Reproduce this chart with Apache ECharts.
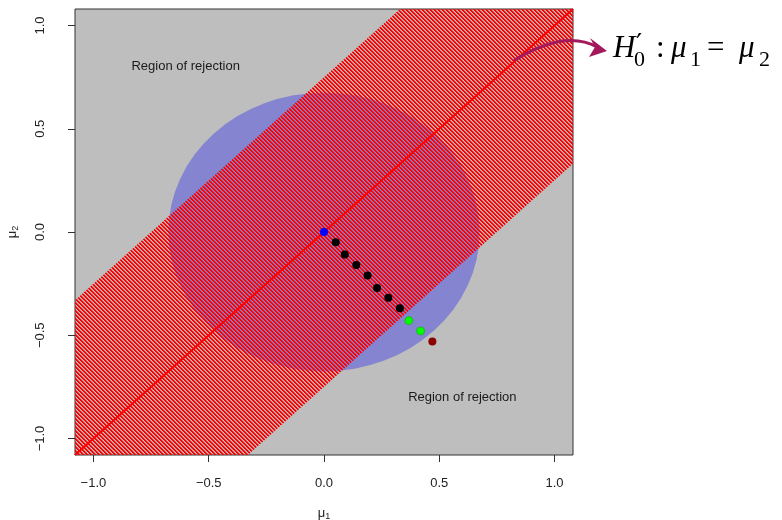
<!DOCTYPE html>
<html>
<head>
<meta charset="utf-8">
<script src="https://cdn.jsdelivr.net/npm/echarts@6/dist/echarts.min.js"></script>
<style>html,body{margin:0;padding:0;background:#fff}#c{width:782px;height:520px}</style>
</head>
<body>
<div id="c"></div>
<script>
// ---- data ----
const axisMin = -1.08, axisMax = 1.08;
const xTicks = [-1.0, -0.5, 0.0, 0.5, 1.0];
const yTicks = [-1.0, -0.5, 0.0, 0.5, 1.0];
const bandHalfWidth = 0.75;          // |mu2 - mu1| < 0.75 (acceptance band)
const circleCenter = [0, 0];
const circleRadius = 0.675;
const nullLine = [[-1.08, -1.08], [1.08, 1.08]];
const originPoint = [[0.0, 0.0]];
const blackPoints = [[0.051, -0.050], [0.090, -0.109], [0.140, -0.160], [0.189, -0.211],
                     [0.230, -0.271], [0.279, -0.319], [0.329, -0.369]];
const greenPoints = [[0.368, -0.429], [0.419, -0.479]];
const darkRedPoints = [[0.470, -0.530]];
const regionLabels = [['Region of rejection', -0.60, 0.80], ['Region of rejection', 0.60, -0.80]];

// ---- hatch pattern ----
function makeHatch() {
  const n = 4;
  const alphaByPhase = [255, 255, 80, 0];
  const cv = document.createElement('canvas');
  cv.width = n; cv.height = n;
  const ctx = cv.getContext('2d');
  const img = ctx.createImageData(n, n);
  for (let y = 0; y < n; y++) for (let x = 0; x < n; x++) {
    const k = (y * n + x) * 4;
    const ph = (((x - y) % n) + n) % n;
    img.data[k] = 255; img.data[k + 1] = 0; img.data[k + 2] = 0;
    img.data[k + 3] = alphaByPhase[ph];
  }
  ctx.putImageData(img, 0, 0);
  return cv;
}
const hatch = makeHatch();

const fmt = v => v.toFixed(1).replace('-', '\u2212');
const chart = echarts.init(document.getElementById('c'), null, {renderer: 'canvas'});

const option = {
  animation: false,
  backgroundColor: '#ffffff',
  grid: {left: 75, right: 209, top: 9, bottom: 65, show: true, containLabel: false,
         outerBoundsMode: 'none',
         backgroundColor: '#bebebe', borderColor: '#333333', borderWidth: 1},
  xAxis: {
    type: 'value', min: axisMin, max: axisMax,
    axisLine: {show: false, onZero: false}, splitLine: {show: false},
    axisTick: {show: true, length: 7, customValues: xTicks, lineStyle: {color: '#333'}},
    axisLabel: {customValues: xTicks, formatter: fmt, fontSize: 13, color: '#222',
                margin: 22, fontFamily: 'Liberation Sans'},
    name: '{m|μ}{s|1}', nameLocation: 'middle', nameGap: 51,
    nameTextStyle: {rich: {m: {fontSize: 13, color: '#222', fontFamily: 'Liberation Sans'},
                           s: {fontSize: 9, color: '#222', fontFamily: 'Liberation Sans', padding: [6, 0, 0, 0]}}}
  },
  yAxis: {
    type: 'value', min: axisMin, max: axisMax,
    axisLine: {show: false, onZero: false}, splitLine: {show: false},
    axisTick: {show: true, length: 7, customValues: yTicks, lineStyle: {color: '#333'}},
    axisLabel: {customValues: yTicks, formatter: fmt, fontSize: 13, color: '#222',
                margin: 28, rotate: 90, fontFamily: 'Liberation Sans'},
    name: '{m|μ}{s|2}', nameLocation: 'middle', nameGap: 55,
    nameTextStyle: {rich: {m: {fontSize: 13, color: '#222', fontFamily: 'Liberation Sans'},
                           s: {fontSize: 9, color: '#222', fontFamily: 'Liberation Sans', padding: [6, 0, 0, 0]}}}
  },
  series: [
    { // circle
      type: 'custom', z: 1, clip: true, data: [circleCenter],
      renderItem: (params, api) => {
        const c = api.coord([api.value(0), api.value(1)]);
        const sz = api.size([circleRadius, circleRadius]);
        return {type: 'circle', x: c[0], y: c[1], scaleY: sz[1] / sz[0],
                shape: {cx: 0, cy: 0, r: sz[0]}, style: {fill: '#8484d0'}};
      }
    },
    { // hatched acceptance band
      type: 'custom', z: 2, clip: true, data: [[bandHalfWidth]],
      renderItem: (params, api) => {
        const d = api.value(0);
        const a = axisMin - 0.5, b = axisMax + 0.5;
        const pts = [[a, a + d], [b, b + d], [b, b - d], [a, a - d]].map(p => api.coord(p));
        return {type: 'polygon', shape: {points: pts},
                style: {fill: {image: hatch, repeat: 'repeat'}}};
      }
    },
    { // H0 line
      type: 'line', z: 3, data: nullLine, showSymbol: false, symbol: 'none', clip: true,
      lineStyle: {color: '#ff0000', width: 2}
    },
    { // region labels
      type: 'custom', z: 4, data: regionLabels.map(r => [r[1], r[2], r[0]]),
      renderItem: (params, api) => {
        const c = api.coord([api.value(0), api.value(1)]);
        return {type: 'text', x: c[0], y: c[1],
                style: {text: regionLabels[params.dataIndex][0], fill: '#1a1a1a', fontSize: 13,
                        fontFamily: 'Liberation Sans', align: 'center', verticalAlign: 'middle'}};
      }
    },
    {type: 'scatter', z: 5, data: originPoint, symbolSize: 8, itemStyle: {color: '#0000ff', opacity: 1}},
    {type: 'scatter', z: 5, data: blackPoints, symbolSize: 8, itemStyle: {color: '#000000', opacity: 1}},
    {type: 'scatter', z: 5, data: greenPoints, symbolSize: 8,
     itemStyle: {color: '#00ff00', borderColor: '#22aa22', borderWidth: 0.8, opacity: 1}},
    {type: 'scatter', z: 5, data: darkRedPoints, symbolSize: 8, itemStyle: {color: '#8b0000', opacity: 1}}
  ]
};
chart.setOption(option);

// ---- annotation: arrow + formula ----
const s = chart.convertToPixel({gridIndex: 0}, [0.824, 0.831]);
const arrowColor = '#a3195b';
const serif = 'Liberation Serif';
const tx = 613, base = 49;
chart.setOption({
  graphic: [
    {type: 'bezierCurve', z: 100, silent: true,
     shape: {x1: s[0], y1: s[1], cpx1: 565, cpy1: 29, x2: 597, y2: 47},
     style: {stroke: arrowColor, lineWidth: 3, fill: null}},
    {type: 'polygon', z: 100, silent: true,
     shape: {points: [[607, 51], [590, 38], [595, 47], [589, 57]]},
     style: {fill: arrowColor}},
    {type: 'text', z: 100, x: tx, y: base, style: {text: 'H', font: 'italic 31px ' + serif, fill: '#000', verticalAlign: 'middle'}},
    {type: 'text', z: 100, x: tx + 23, y: 47, style: {text: '\u2032', font: '27px DejaVu Serif', fill: '#000', verticalAlign: 'middle'}},
    {type: 'text', z: 100, x: tx + 21, y: 60, style: {text: '0', font: '22px ' + serif, fill: '#000', verticalAlign: 'middle'}},
    {type: 'text', z: 100, x: tx + 43, y: base, style: {text: ':', font: '31px ' + serif, fill: '#000', verticalAlign: 'middle'}},
    {type: 'text', z: 100, x: tx + 58, y: base, style: {text: 'μ', font: 'italic 31px ' + serif, fill: '#000', verticalAlign: 'middle'}},
    {type: 'text', z: 100, x: tx + 77, y: 60, style: {text: '1', font: '22px ' + serif, fill: '#000', verticalAlign: 'middle'}},
    {type: 'text', z: 100, x: tx + 94, y: base, style: {text: '=', font: '31px ' + serif, fill: '#000', verticalAlign: 'middle'}},
    {type: 'text', z: 100, x: tx + 126, y: base, style: {text: 'μ', font: 'italic 31px ' + serif, fill: '#000', verticalAlign: 'middle'}},
    {type: 'text', z: 100, x: tx + 146, y: 60, style: {text: '2', font: '22px ' + serif, fill: '#000', verticalAlign: 'middle'}}
  ]
});
</script>
</body>
</html>
